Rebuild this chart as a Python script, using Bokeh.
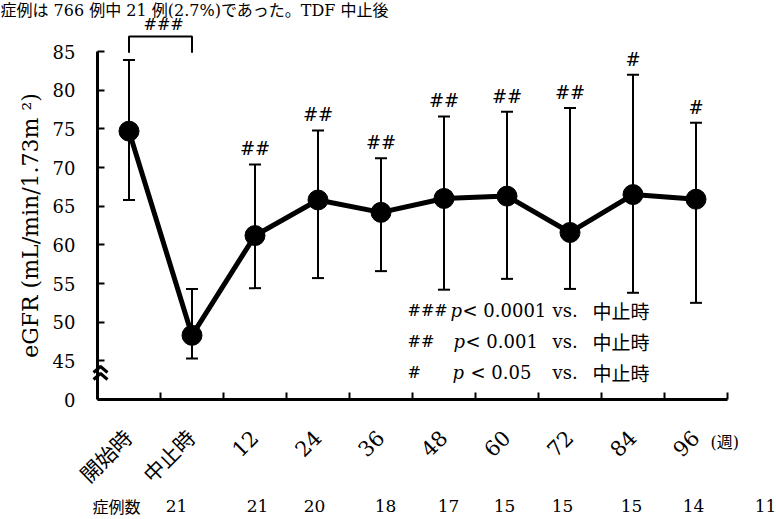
import math
from bokeh.plotting import figure
from bokeh.models import Range1d, FixedTicker, Label, ColumnDataSource, Whisker, TeeHead, LabelSet
from bokeh.embed import file_html
from bokeh.resources import INLINE
from bokeh.core.properties import value

# ---------------- data ----------------
categories = ["開始時", "中止時", "12", "24", "36", "48", "60", "72", "84", "96"]
egfr_mean = [74.7, 48.3, 61.2, 65.8, 64.2, 66.0, 66.3, 61.6, 66.5, 65.9]
egfr_upper = [83.9, 54.3, 70.4, 74.8, 71.2, 76.6, 77.2, 77.7, 82.0, 75.8]
egfr_lower = [65.8, 45.3, 54.4, 55.7, 56.6, 54.2, 55.6, 54.3, 53.8, 52.5]
sig_marks = ["", "", "##", "##", "##", "##", "##", "##", "#", "#"]
n_cases = [21, 21, 20, 18, 17, 15, 15, 15, 14, 11]
y_ticks = [40, 45, 50, 55, 60, 65, 70, 75, 80, 85]
y_tick_labels = ["0", "45", "50", "55", "60", "65", "70", "75", "80", "85"]
legend_rows = [("###", "p", "< 0.0001"), ("##", "p", "<  0.001"), ("#", "p", "< 0.05")]
legend_ref = "中止時"
top_text = "症例は 766 例中 21 例(2.7%)であった。TDF 中止後"

# ---------------- layout constants ----------------
SERIF = "'DejaVu Serif', 'Noto Sans CJK JP'"
CJK = "Noto Sans CJK JP"
BLACK = "black"
W, H = 776, 519
n_cat = len(categories)
xs = [i + 0.5 for i in range(n_cat)]
x_px = 63.0            # pixels per category
y_px = 7.733           # pixels per eGFR unit
origin_sx, origin_sy = 97, 399   # where the axes cross, in canvas pixels
x0 = 0.0
y0 = y_ticks[0]

x_range = Range1d(x0 - origin_sx / x_px, x0 + (W - origin_sx) / x_px)
y_range = Range1d(y0 - (H - origin_sy) / y_px, y0 + origin_sy / y_px)

def dx(sx):
    return x0 + (sx - origin_sx) / x_px

def dy(sy):
    return y0 + (origin_sy - sy) / y_px

src = ColumnDataSource(dict(x=xs, mean=egfr_mean, upper=egfr_upper, lower=egfr_lower, sig=sig_marks))

p = figure(width=W, height=H, output_backend="svg", toolbar_location=None,
           x_range=x_range, y_range=y_range,
           min_border=0, min_border_left=0, min_border_right=0, min_border_top=0, min_border_bottom=0)
p.outline_line_color = None
p.xgrid.grid_line_color = None
p.ygrid.grid_line_color = None
p.background_fill_color = "white"
p.border_fill_color = "white"

# whiskers
wh = Whisker(source=src, base="x", upper="upper", lower="lower", line_width=2, line_color=BLACK,
             upper_head=TeeHead(size=12, line_width=2, line_color=BLACK),
             lower_head=TeeHead(size=12, line_width=2, line_color=BLACK))
p.add_layout(wh)

p.line("x", "mean", source=src, line_width=5, line_color=BLACK)
p.scatter("x", "mean", source=src, size=20, fill_color=BLACK, line_color=BLACK)

# significance marks
ls = LabelSet(x="x", y="upper", text="sig", source=src, y_offset=5, text_align="center",
              text_baseline="bottom", text_font=value(SERIF), text_font_size="18px", text_color=BLACK)
p.add_layout(ls)

# bracket 開始時 - 中止時
b_low = egfr_upper[0] + 0.95
b_high = b_low + 2.1
p.line([xs[0], xs[0], xs[1], xs[1]], [b_low, b_high, b_high, b_low], line_width=2, line_color=BLACK)
p.add_layout(Label(x=(xs[0] + xs[1]) / 2 + 0.05, y=b_high, y_offset=2, text="###", text_align="center",
                   text_baseline="bottom", text_font=SERIF, text_font_size="16px", text_color=BLACK))

# axes, drawn at the crossing point
yax = p.yaxis[0]
yax.fixed_location = x0
yax.ticker = FixedTicker(ticks=y_ticks)
yax.major_label_overrides = {t: l for t, l in zip(y_ticks, y_tick_labels)}
yax.bounds = (y_ticks[0], y_ticks[-1])
yax.axis_line_width = 3
yax.axis_line_color = BLACK
yax.major_tick_in = 7
yax.major_tick_out = 0
yax.major_tick_line_width = 2
yax.major_tick_line_color = BLACK
yax.minor_tick_line_color = None
yax.major_label_standoff = 22
yax.major_label_text_font = SERIF
yax.major_label_text_font_size = "18px"
yax.major_label_text_color = BLACK
yax.axis_label = "eGFR (mL/min/1.73m ²)"
yax.axis_label_text_font = SERIF
yax.axis_label_text_font_size = "22px"
yax.axis_label_text_font_style = "normal"
yax.axis_label_text_color = BLACK
yax.axis_label_standoff = 7

xax = p.xaxis[0]
xax.fixed_location = y0
xax.ticker = FixedTicker(ticks=xs, minor_ticks=list(range(1, n_cat + 1)))
xax.major_label_overrides = {x: c for x, c in zip(xs, categories)}
xax.bounds = (0, n_cat)
xax.axis_line_width = 3
xax.axis_line_color = BLACK
xax.major_tick_line_color = None
xax.minor_tick_in = 7
xax.minor_tick_out = 0
xax.minor_tick_line_width = 2
xax.minor_tick_line_color = BLACK
xax.major_label_orientation = math.pi / 4
xax.major_label_standoff = 29
xax.major_label_text_font = SERIF
xax.major_label_text_font_size = "21px"
xax.major_label_text_color = BLACK

def label(sx, sy, text, **kw):
    kw.setdefault("text_color", BLACK)
    p.add_layout(Label(x=dx(sx), y=dy(sy), text=text, **kw))

# axis break mark: two stacked chevrons on the y axis
brk_sx, brk_sy = 100, 366
half_w, rise, gap = 7, 6, 7
chev_x = [[dx(brk_sx - half_w), dx(brk_sx), dx(brk_sx + half_w)]] * 2
chev_y = [[dy(brk_sy + rise + k * gap), dy(brk_sy + k * gap), dy(brk_sy + rise + k * gap)] for k in (0, 1)]
p.multi_line(chev_x, chev_y, line_width=3, line_color=BLACK)

# unit label
label(710, 442, "(週)", text_align="left", text_baseline="middle", text_font=SERIF, text_font_size="16px")

# legend of significance
row_sy = [310, 341, 372]
row_p_sx = [450, 453, 452]
row_rest_sx = [462, 465, 470]
for (mark, pt, rest), sy, psx, rsx in zip(legend_rows, row_sy, row_p_sx, row_rest_sx):
    label(407, sy, mark, text_baseline="middle", text_font=SERIF, text_font_size="16px")
    label(psx, sy, pt, text_baseline="middle", text_font=SERIF, text_font_size="18px", text_font_style="italic")
    label(rsx, sy, rest, text_baseline="middle", text_font=SERIF, text_font_size="18px")
    label(552, sy, "vs.", text_baseline="middle", text_font=SERIF, text_font_size="18px")
    label(592, sy, legend_ref, text_baseline="middle", text_font=CJK, text_font_size="19px")

# case count row
count_sx = [176, 257, 314, 385, 448, 504, 562, 631, 693, 765]
row_sy_n = 505
label(92, row_sy_n, "症例数", text_baseline="middle", text_font=CJK, text_font_size="16px")
for n, cx in zip(n_cases, count_sx):
    label(cx, row_sy_n, str(n), text_align="center", text_baseline="middle", text_font=SERIF,
          text_font_size="17px")

# page text line above the chart
label(0, 0, top_text, text_baseline="top", text_font=SERIF, text_font_size="16px")

open("out.html", "w").write(file_html(p, INLINE))
